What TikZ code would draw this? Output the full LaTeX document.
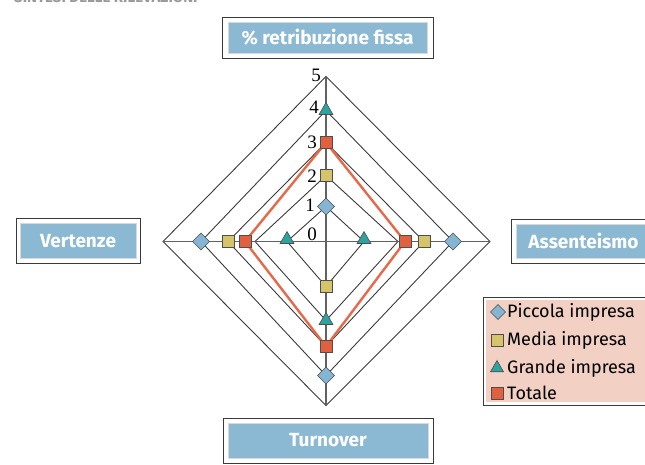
\documentclass[tikz,border=0pt]{standalone}
\usepackage{fontspec}
\setmainfont{Fira Sans}
\newfontfamily\numfont{Liberation Serif}
\usetikzlibrary{shapes.geometric,calc}
\definecolor{mkblue}{HTML}{84B5D3}
\definecolor{mkyellow}{HTML}{D6C46A}
\definecolor{mkteal}{HTML}{2BA39E}
\definecolor{mkred}{HTML}{E06040}
\definecolor{totline}{HTML}{E8694A}
\definecolor{boxblue}{HTML}{8BB9D3}
\definecolor{legpink}{HTML}{F2D0C4}
\definecolor{gridc}{HTML}{3A3A3A}
\tikzset{
  ring/.style={draw=gridc, line width=0.9pt, line join=miter},
  axisline/.style={draw=gridc!80, line width=1.3pt},
  totale/.style={draw=totline, line width=2.4pt, line join=miter},
  mk/.style={draw=gridc!90, line width=0.6pt, inner sep=0pt, outer sep=0pt},
  sqmk/.style={mk, rectangle, minimum size=12pt},
  dmmk/.style={mk, diamond, minimum width=17pt, minimum height=17pt, fill=mkblue},
  trmk/.style={mk, regular polygon, regular polygon sides=3, minimum size=16pt, fill=mkteal},
  outerbox/.style={draw=gridc, line width=0.9pt, fill=white},
  innerbox/.style={draw=white!85!black, line width=0.5pt, fill=boxblue},
  boxtext/.style={text=white, font=\fontsize{19}{22}\selectfont\bfseries},
  ticklab/.style={font=\numfont\fontsize{19}{21}\selectfont, inner sep=0pt},
  legtext/.style={anchor=west, font=\fontsize{18}{20}\selectfont, inner sep=0pt}
}
\begin{document}
\begin{tikzpicture}[x=1pt,y=-1pt]
\useasboundingbox (0,0) rectangle (645,465);
% partially visible title (cut at top, as in the reference)
\node[anchor=base west, inner sep=0pt, text=gray!80, font=\fontsize{15}{17}\selectfont\bfseries] (title) at (14,2.5) {SINTESI DELLE RILEVAZIONI};
% centre and ring points
\coordinate (c) at (326,241.5);
\foreach \k/\t/\r/\b/\l in {1/35/38/45/39, 2/66/72/79/71, 3/99/98/105/98, 4/131/127/134/125, 5/165/164/164/163}{
  \coordinate (t\k) at ($(c)+(0,-\t)$);
  \coordinate (r\k) at ($(c)+(\r,0)$);
  \coordinate (b\k) at ($(c)+(0,\b)$);
  \coordinate (l\k) at ($(c)+(-\l,0)$);
}
\coordinate (rT) at ($(c)+(79,0)$);
\coordinate (lT) at ($(c)+(-81,0)$);
% rings
\foreach \k in {1,...,5}{
  \draw[ring] (t\k) -- (r\k) -- (b\k) -- (l\k) -- cycle;
}
% axes
\draw[axisline] (t5) -- (b5);
\draw[axisline] (l5) -- (r5);
% totale line
\draw[totale] (t3) -- (rT) -- (b3) -- (lT) -- cycle;
% tick labels
\node[ticklab] (n5) at (316,75) {5};
\node[ticklab] (n4) at (314,107) {4};
\node[ticklab] (n3) at (312,142) {3};
\node[ticklab] (n2) at (312,176) {2};
\node[ticklab] (n1) at (310,205) {1};
\node[ticklab] (n0) at (312,234) {0};
% markers: Piccola
\node[dmmk] (p1) at (t1) {};
\node[dmmk] (p2) at (r4) {};
\node[dmmk] (p3) at (b4) {};
\node[dmmk] (p4) at (l4) {};
% Media
\node[sqmk, fill=mkyellow] (m1) at (t2) {};
\node[sqmk, fill=mkyellow] (m2) at (r3) {};
\node[sqmk, fill=mkyellow] (m3) at (b1) {};
\node[sqmk, fill=mkyellow] (m4) at (l3) {};
% Grande
\node[trmk] (g1) at (t4) {};
\node[trmk] (g2) at ($(r1)+(0,-2)$) {};
\node[trmk] (g3) at (b2) {};
\node[trmk] (g4) at ($(l1)+(0,-2)$) {};
% Totale
\node[sqmk, fill=mkred] (s1) at (t3) {};
\node[sqmk, fill=mkred] (s2) at (rT) {};
\node[sqmk, fill=mkred] (s3) at (b3) {};
\node[sqmk, fill=mkred] (s4) at (lT) {};
% label boxes
\draw[outerbox] (222,17) rectangle (433,58);
\draw[innerbox] (228,22) rectangle (427,53);
\node[boxtext] (lab1) at (327.5,37.5) {\% retribuzione fissa};
\draw[outerbox] (16,218) rectangle (140,263);
\draw[innerbox] (20,223) rectangle (136,258);
\node[boxtext] (lab2) at (78,241) {Vertenze};
\draw[outerbox] (511,219) rectangle (660,263);
\draw[innerbox] (516,224) rectangle (660,258);
\node[boxtext] (lab3) at (583.5,241) {Assenteismo};
\draw[outerbox] (223,418) rectangle (433,463);
\draw[innerbox] (228,423) rectangle (428,458);
\node[boxtext] (lab4) at (328,440) {Turnover};
% legend
\draw[draw=gridc, line width=0.9pt, fill=white] (483,297) rectangle (660,405);
\fill[legpink] (486,300) rectangle (660,402);
\node[mk, diamond, minimum width=15pt, minimum height=15pt, fill=mkblue] (lg1) at (498,312) {};
\node[legtext] (lt1) at (507,312) {Piccola impresa};
\node[mk, rectangle, minimum size=12pt, fill=mkyellow] (lg2) at (497,340) {};
\node[legtext] (lt2) at (507,340) {Media impresa};
\node[mk, regular polygon, regular polygon sides=3, minimum size=15pt, fill=mkteal] (lg3) at (497,368) {};
\node[legtext] (lt3) at (507,368) {Grande impresa};
\node[mk, rectangle, minimum size=12pt, fill=mkred] (lg4) at (497,393) {};
\node[legtext] (lt4) at (507,393) {Totale};
\end{tikzpicture}
\end{document}
